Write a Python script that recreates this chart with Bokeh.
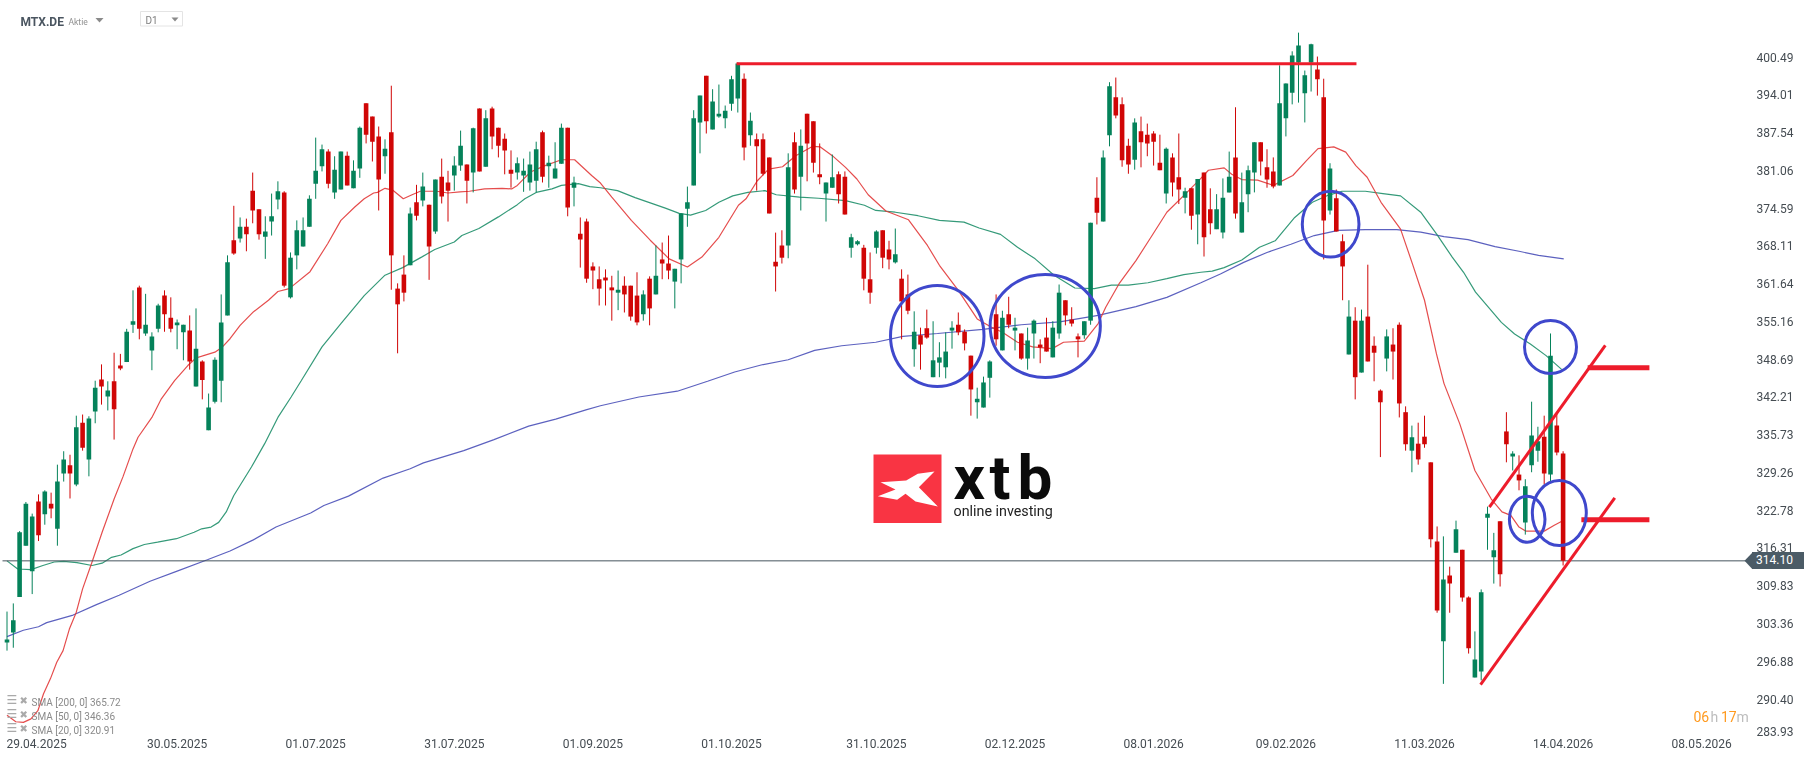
from bokeh.plotting import figure
from bokeh.embed import file_html
from bokeh.resources import INLINE
from bokeh.core.properties import value
from bokeh.layouts import column
from bokeh.models import ColumnDataSource, Div, FixedTicker, PolyAnnotation, Range1d

# ---------- candle values (daily, index 0 = 29.04.2025) ----------
opens = [
300.1,301.8,307.9,316.7,312.3,324.3,322.1,323.9,319.6,329.1,
330.5,327.2,337.8,331.5,339.7,345.2,342.3,344.9,347.6,348.2,
354.6,361.0,353.1,350.2,353.9,359.6,355.8,354.5,353.3,353.6,
344.0,348.3,336.5,341.4,345.0,356.2,369.1,369.4,371.4,377.6,
374.4,369.7,372.3,376.1,377.3,359.3,366.5,368.0,371.4,378.8,
381.8,384.3,377.3,377.8,383.6,378.0,381.4,392.6,390.3,386.9,
383.5,387.6,360.8,363.2,364.8,375.6,375.9,375.2,370.6,380.0,
379.0,380.2,381.9,382.1,380.7,391.7,381.7,391.7,388.4,386.5,
381.2,380.7,380.2,379.0,379.3,387.6,381.8,379.7,382.2,388.4,
378.1,370.2,372.3,364.6,362.4,362.7,361.0,360.1,361.3,361.3,
359.6,356.4,362.5,359.8,365.8,365.1,362.0,365.8,374.5,378.5,
389.3,397.3,388.1,390.3,390.0,392.5,393.4,396.8,387.1,386.4,
386.4,383.3,365.4,368.2,368.2,385.9,380.0,390.8,389.5,380.4,
377.1,378.1,380.4,380.0,367.8,368.4,367.8,362.4,367.8,370.8,
367.5,365.3,362.5,359.8,350.4,352.8,354.0,345.6,348.1,347.3,
353.6,354.6,353.4,349.3,341.3,340.4,345.5,356.4,350.2,356.4,
353.6,353.1,348.8,353.1,351.2,352.4,349.0,353.1,358.8,355.5,
352.6,352.8,355.3,376.4,372.3,387.1,393.6,392.4,385.3,382.9,
387.8,387.2,387.4,382.4,377.1,383.3,379.9,376.4,378.0,373.5,
380.7,374.4,371.0,370.4,377.3,383.3,370.4,377.0,380.7,385.9,
381.6,380.9,378.5,390.0,394.4,399.6,394.3,399.6,398.4,393.6,
374.2,376.3,368.9,349.5,355.3,346.4,356.0,351.0,343.3,348.8,
351.2,354.6,339.6,333.0,334.2,335.4,331.0,317.4,300.3,311.6,
315.5,316.0,307.8,294.1,295.1,321.5,314.7,320.9,336.3,332.0,
328.9,320.7,330.5,333.0,335.4,328.9,337.3,332.5]
closes = [
300.6,303.9,319.0,323.9,321.7,318.5,326.0,323.1,327.7,331.5,
329.1,337.0,333.5,338.5,343.8,344.0,343.3,340.1,347.1,353.4,
355.2,353.9,354.6,352.6,357.9,356.4,353.9,355.0,354.6,348.3,
350.5,345.1,340.4,348.6,355.0,365.3,366.8,371.4,370.1,374.2,
370.1,370.6,373.2,377.5,361.3,366.1,370.8,370.8,376.2,381.0,
384.7,378.8,381.2,384.3,378.5,381.0,388.4,387.2,386.0,379.5,
384.8,366.5,358.1,360.1,373.7,373.3,378.3,368.0,379.5,376.6,
377.6,381.9,385.3,379.3,388.3,380.9,390.0,386.9,385.3,384.5,
380.5,382.3,381.0,382.1,384.7,380.0,382.4,381.4,388.4,374.7,
379.0,369.2,362.5,363.9,360.8,362.2,360.5,360.6,359.8,356.0,
355.0,359.8,357.4,363.0,365.1,363.9,364.2,373.7,375.6,390.0,
393.9,389.5,392.9,390.8,391.3,396.7,399.4,385.0,389.6,385.2,
380.5,373.7,364.6,366.1,381.6,377.8,385.3,385.7,382.4,379.9,
379.0,379.9,377.0,373.5,369.6,368.9,362.5,360.1,370.6,366.1,
365.8,366.7,358.6,357.0,353.4,351.2,352.4,348.5,349.0,350.0,
354.1,353.3,351.4,343.5,341.9,344.7,348.3,352.1,355.8,354.6,
354.1,348.8,351.9,355.3,350.7,350.0,354.1,360.1,356.2,354.8,
352.1,355.2,372.1,373.8,383.3,395.5,390.5,382.8,382.1,389.3,
385.9,385.7,386.0,381.1,384.8,379.0,377.8,377.5,373.3,379.6,
369.6,372.0,374.4,376.4,380.0,373.7,375.6,381.1,385.9,382.6,
379.5,378.3,392.6,396.0,400.8,402.5,397.4,402.7,396.7,372.5,
381.4,370.6,364.6,356.0,345.6,355.3,348.3,349.8,341.3,352.6,
350.0,341.1,334.1,335.3,331.5,334.1,317.8,305.6,310.9,310.2,
319.5,307.8,299.1,297.2,308.7,322.2,315.9,311.8,334.1,332.5,
327.9,326.9,335.6,334.6,329.1,349.3,332.7,314.1]
highs = [
305.4,306.8,319.2,324.2,322.2,325.5,326.2,325.8,330.6,332.9,
332.3,339.0,339.2,338.9,345.0,347.8,344.9,349.8,349.6,353.9,
360.5,361.3,359.9,353.3,358.2,360.5,359.3,355.5,354.6,356.2,
357.4,348.5,342.8,349.0,359.8,366.5,375.0,373.0,372.8,380.7,
374.4,373.2,377.1,379.2,377.5,367.0,372.5,373.0,376.8,386.7,
385.5,384.7,383.5,384.3,384.3,382.8,388.6,392.6,390.3,388.6,
386.4,395.6,361.7,366.5,374.7,378.6,380.7,375.2,379.5,383.1,
381.0,383.5,387.9,382.1,388.4,391.7,391.4,392.0,388.4,387.4,
384.5,383.3,383.1,384.3,386.0,387.9,383.6,385.9,389.1,388.4,
380.0,373.0,372.8,365.3,364.6,364.1,363.0,363.9,362.9,361.3,
363.6,360.5,362.9,368.2,368.7,369.9,364.2,373.7,378.3,391.4,
393.9,397.3,395.0,395.8,392.2,397.3,399.6,397.7,391.0,387.4,
387.4,383.3,370.4,370.8,384.0,387.6,388.1,390.8,389.5,385.7,
379.0,383.8,380.9,380.9,370.2,369.1,368.3,367.0,370.8,370.8,
369.0,371.1,364.1,363.2,356.9,354.1,357.2,355.2,351.6,353.3,
355.2,356.7,353.8,349.3,343.8,345.7,348.5,359.8,357.0,359.4,
355.8,353.1,354.1,355.5,352.1,355.8,355.2,361.5,358.8,357.6,
353.1,355.2,372.1,379.9,384.5,396.2,397.0,393.6,386.5,390.0,
390.3,389.1,387.8,387.2,385.0,384.0,387.4,378.1,378.0,379.6,
380.7,378.0,377.0,379.7,384.3,391.9,380.7,381.9,385.9,385.9,
384.7,383.3,399.1,396.0,401.5,404.7,398.2,402.8,400.6,396.8,
382.3,377.8,370.1,358.8,357.6,357.2,364.9,352.6,343.5,353.8,
354.0,355.0,340.6,337.3,337.8,339.0,331.0,320.0,318.3,313.1,
321.0,316.0,308.0,302.0,309.2,323.4,318.9,320.9,339.6,332.9,
332.2,328.1,341.4,337.1,339.0,353.1,339.3,332.9]
lows = [
298.7,299.2,307.9,316.7,308.4,317.5,320.3,321.4,316.7,327.7,
324.8,326.9,333.0,328.6,337.7,340.9,339.9,334.9,346.8,348.2,
353.2,352.1,352.7,346.8,353.3,353.4,353.3,350.4,348.5,346.9,
344.0,341.8,336.5,341.1,341.3,356.2,366.6,368.7,367.2,372.0,
369.2,365.9,369.9,374.4,361.0,359.1,364.1,368.0,371.4,376.2,
380.9,378.0,376.2,377.8,378.5,378.0,379.8,385.7,382.6,374.2,
380.5,360.6,349.7,358.6,364.8,372.5,374.9,362.3,370.2,375.4,
372.3,377.6,381.0,375.4,377.3,380.9,381.7,384.7,383.3,380.4,
378.1,379.5,377.4,377.6,377.3,379.0,378.1,379.7,382.2,373.2,
374.9,364.4,361.8,360.7,357.9,357.9,355.3,357.1,356.7,355.3,
354.5,355.3,354.5,359.8,362.4,362.4,357.4,361.7,371.4,378.5,
384.0,387.4,388.1,390.1,388.3,391.3,391.0,382.8,385.3,377.6,
380.2,373.7,360.3,365.1,366.0,377.1,374.2,379.2,380.7,378.7,
372.3,378.1,375.4,373.5,366.1,368.2,360.5,358.2,366.8,364.3,
364.1,365.1,352.1,356.4,347.4,346.9,352.2,345.6,345.6,345.4,
350.5,352.8,350.2,339.0,338.5,340.4,342.1,351.0,350.2,354.0,
350.2,348.6,346.9,348.8,348.0,350.0,349.0,352.2,354.5,354.3,
349.0,352.2,354.6,371.8,372.3,385.2,390.0,381.7,380.5,381.2,
381.6,383.5,381.9,381.1,375.4,376.6,375.3,373.7,370.9,368.4,
366.3,370.1,371.0,369.4,377.3,372.8,370.4,373.9,377.3,380.2,
378.1,378.0,378.5,386.9,392.4,392.7,389.3,394.6,393.9,365.8,
373.5,370.6,358.8,349.5,341.8,346.4,348.3,344.9,331.9,346.6,
345.2,338.7,333.0,329.3,330.6,333.5,316.4,305.2,293.0,305.2,
315.5,307.1,298.2,294.1,293.6,316.0,310.2,309.7,331.0,329.6,
326.2,318.6,329.3,331.1,327.2,327.7,332.2,313.3]

# ---------- moving averages, vertices ----------
sma20_i = [0,1.4,2.6,3.8,4.9,5.8,6.9,7.9,8.9,9.9,11,12,13.5,15.1,17,18.4,20,20.8,23,24.5,26.6,28.7,30,31.2,33,34.2,35.4,37,39.1,41.5,43,44.8,48.1,50.9,53,55.2,56.7,58.2,58.8,60,61.2,62.9,64.3,65.6,68.2,70,71.9,73.4,75.8,78.6,80.1,81,83.1,85.2,88,90.1,92.8,94.2,96,99.1,102.1,105.1,108,110.3,113,116.1,117.3,119.1,120.9,123.1,125.2,127.9,129.1,131,133.1,134.9,136.7,139.5,143.1,146.1,148,151,154,156.2,158,160.4,162.8,165.9,167.7,171,173.2,174.4,176.5,179.2,181.4,184.1,187.1,189.5,190.7,193.2,194.4,196,198.5,201,204.1,206.3,208.1,210.6,212.5,214.1,215.9,218.1,221.2,223.1,225,226.9,228.1,230.6,233,235.6,237.3,238.7,240,241.1,244,245.6,246.8]
sma20_v = [287.6,286.5,286.4,287.0,288.4,291.3,293.9,296.7,298.7,302.4,305.3,309.3,313.9,319.0,324.7,328.5,333.3,335.3,338.7,341.9,345.0,347.6,348.9,349.3,349.9,350.8,352.2,354.5,356.8,358.8,360.3,360.8,363.7,368.5,372.5,374.8,376.2,377.2,377.3,378.0,377.7,376.2,376.9,377.5,377.5,377.2,377.4,377.5,377.9,378.0,377.9,378.5,380.8,381.8,382.9,382.9,380.2,378.9,376.5,372.5,369.1,365.9,364.5,366.2,369.6,375.1,376.2,379.3,381.3,381.7,383.6,385.2,385.1,383.6,381.6,379.6,376.9,374.1,372.6,368.2,364.8,360.5,355.6,354.2,353.3,351.6,350.8,350.5,351.6,351.8,354.8,357.6,361.6,365.6,369.3,373.9,377.1,379.7,381.1,381.5,380.4,379.5,379.4,378.5,380.2,382.8,384.8,385.1,384.2,381.9,379.9,375.6,371.0,365.0,358.8,349.6,344.5,337.6,329.6,324.7,322.5,321.9,319.9,319.2,319.2,320.2,320.9]
sma50_i = [0,1.7,3.8,5.7,7.5,9,11.1,13.5,15.1,16.6,18.1,20,21.8,23.9,26.9,29.7,30.9,32.4,33.6,34.8,36,38.8,40.9,43,45.1,46.7,50,53,56.7,60,62.8,65.8,67.9,71,72.2,74.9,78,81,82.2,84,86.5,88,90.7,92.5,94.2,96.9,99.7,102.1,104.5,106.7,108.5,110.9,113,115.2,117.6,120.3,122.1,125.8,128.8,133.1,136.1,137.9,141,144.6,148,151.9,154.3,157.7,160.4,163.2,166.2,169.5,172.6,175.3,178,181.1,184.1,186.8,189.5,191.3,193.2,196,198.8,201.3,204.4,207.2,209.7,211.9,215.6,218.4,221.2,224.4,226.9,229.4,231.2,233.1,237.2,239.3,241.8,244.3,246.8]
sma50_v = [314.1,312.7,312.6,313.3,313.9,314.0,313.8,313.3,313.7,314.7,315.1,316.2,316.9,317.3,317.9,319.0,319.6,319.9,320.7,322.5,325.3,330.2,334.2,338.7,342.2,345.0,350.8,354.8,359.6,363.1,364.4,366.2,367.5,368.8,369.9,371.1,373.1,375.2,376.2,377.3,377.9,378.5,378.8,378.3,378.1,377.6,376.4,375.5,374.6,373.7,373.4,374.2,375.6,376.7,377.3,377.6,376.9,376.5,376.3,375.9,375.1,374.2,373.9,373.3,372.5,372.2,371.2,370.1,367.9,365.9,363.1,360.9,360.8,361.4,361.4,361.8,362.5,363.2,363.6,363.8,364.4,365.7,367.9,369.0,373.0,375.6,376.8,377.5,377.5,377.1,376.7,373.9,370.2,366.2,363.6,360.2,355.0,353.0,351.3,349.3,346.9]
sma200_i = [0,2.6,5,6.3,10.5,14.2,17.8,22.7,26.9,31.8,35.4,39.1,42.7,48.2,50.3,54.2,59.7,64,66.1,72.5,77.3,82.8,87.1,91.9,94.2,100.3,106.4,111.2,115.5,119.7,124,128.2,132.5,137.9,142.2,147.7,154.9,161,167.1,173.2,179.2,184.1,189.5,192.6,196.3,200,203.8,207.5,211.3,215.6,220.6,224.4,228.1,231.9,236.2,240,243.1,247.1]
sma200_v = [301.1,302.2,302.8,303.5,304.8,306.6,308.2,310.6,312.3,314.3,315.8,317.7,319.9,322.3,323.6,325.2,328.3,329.9,330.9,333.0,334.9,337.2,338.4,340.0,340.7,342.2,343.2,344.9,346.5,347.7,348.6,350.2,351.0,351.6,352.6,353.1,353.8,354.6,355.1,356.2,357.7,359.3,361.8,363.3,365.3,367.0,368.4,369.9,370.8,370.9,370.9,370.5,369.7,369.2,368.0,367.2,366.5,365.9]

last_price = 314.10
legend_names = ["SMA [200, 0] 365.72", "SMA [50, 0] 346.36", "SMA [20, 0] 320.91"]

# ---------- axis labels ----------
price_tick_labels = ["400.49","394.01","387.54","381.06","374.59","368.11","361.64","355.16","348.69",
                     "342.21","335.73","329.26","322.78","316.31","309.83","303.36","296.88","290.40","283.93"]
date_ticks = [4.7,27,49,71,93,115,138,160,182,203,225,247,269]
date_labels = ["29.04.2025","30.05.2025","01.07.2025","31.07.2025","01.09.2025","01.10.2025","31.10.2025",
               "02.12.2025","08.01.2026","09.02.2026","11.03.2026","14.04.2026","08.05.2026"]

# ---------- hand-drawn annotations on the chart (bar index, price) ----------
ring_i = [147.66,164.8,210.1,245.0,241.3,246.4]
ring_p = [352.67,354.38,371.85,350.78,321.24,322.31]
ring_w = [14.84,17.49,9.0,8.25,5.65,8.57]
ring_h = [17.32,17.67,11.32,9.09,7.89,11.15]
res_i, res_p = [115.8,214.2], [399.36,399.36]
upper_i, upper_p = [235.3,253.7], [323.3,351.04]
lower_i, lower_p = [233.9,255.2], [292.89,324.92]
lvl1_i, lvl1_p = [250.9,260.7], [347.21,347.21]
lvl2_i, lvl2_p = [249.9,260.7], [321.14,321.14]

GREEN, RED = "#05825a", "#d00606"
DRAW_RED, RING = "#ed1c2b", "#3f48cc"
TEXT = "#454c52"
TAG = "#4b5b66"
FRAME_W, FRAME_H = 1752, 737

def dx(px):  # decoration placement: page px -> bar index
    return (px - 6.5) / 6.3
def dy(py):  # decoration placement: page px -> price
    return 400.49 - (py - 56.7) / 5.83

p = figure(width=1816, height=761, output_backend="svg", toolbar_location=None,
           x_range=Range1d(dx(0), dx(FRAME_W)), y_range=Range1d(dy(FRAME_H), dy(0)),
           y_axis_location="right", x_axis_location="below",
           min_border_left=0, min_border_top=0, min_border_right=1816-FRAME_W, min_border_bottom=761-FRAME_H,
           outline_line_color=None, background_fill_color="white", border_fill_color="white")
p.styles = {"position": "fixed", "left": "0px", "top": "0px"}
p.grid.visible = False

# axes
ticks = [float(t) for t in price_tick_labels[:-1]] + [284.75]  # bottom label sits clamped above its level
p.yaxis.ticker = FixedTicker(ticks=ticks)
p.yaxis.major_label_overrides = dict(zip(ticks, price_tick_labels))
p.xaxis.ticker = FixedTicker(ticks=date_ticks)
p.xaxis.major_label_overrides = dict(zip(date_ticks, date_labels))
for ax in (p.xaxis[0], p.yaxis[0]):
    ax.axis_line_color = None
    ax.major_tick_line_color = None
    ax.minor_tick_line_color = None
    ax.major_tick_out = 0
    ax.major_tick_in = 0
    ax.minor_tick_out = 0
    ax.major_label_text_font = "Roboto"
    ax.major_label_text_font_size = "12px"
    ax.major_label_text_color = TEXT
p.yaxis[0].major_label_standoff = 4
p.xaxis[0].major_label_standoff = 1

# moving averages
p.line(sma200_i, sma200_v, line_color="#4a50b8", line_width=1.2, line_alpha=0.9)
p.line(sma50_i, sma50_v, line_color="#1f8f6a", line_width=1.2, line_alpha=0.9)
p.line(sma20_i, sma20_v, line_color="#e23a3a", line_width=1.2, line_alpha=0.9)

# last price line
p.line([dx(2), dx(1750)], [last_price, last_price], line_color="#46545e", line_width=1)

# candles
idx = list(range(len(opens)))
cols = [GREEN if c >= o else RED for o, c in zip(opens, closes)]
src = ColumnDataSource(dict(x=idx, o=opens, c=closes, h=highs, l=lows, col=cols))
p.segment("x", "h", "x", "l", source=src, line_color="col", line_width=1)
p.vbar("x", 0.73, "o", "c", source=src, fill_color="col", line_color=None)

# drawn lines and rings
p.line(res_i, res_p, line_color=DRAW_RED, line_width=3)
p.line(upper_i, upper_p, line_color=DRAW_RED, line_width=3)
p.line(lower_i, lower_p, line_color=DRAW_RED, line_width=3)
p.line(lvl1_i, lvl1_p, line_color=DRAW_RED, line_width=5)
p.line(lvl2_i, lvl2_p, line_color=DRAW_RED, line_width=5)
p.ellipse(ring_i, ring_p, width=ring_w, height=ring_h, fill_color=None, line_color=RING, line_width=3)

def txt(x, y, s, size, color, font="Roboto", bold=False, align="left", baseline="middle"):
    p.text([dx(x)], [dy(y)], text=[s], text_font=value(font), text_font_size=size, text_color=color,
           text_align=align, text_baseline=baseline, text_font_style="bold" if bold else "normal")

# logo
p.quad(left=[dx(873)], right=[dx(941)], top=[dy(454)], bottom=[dy(522.5)], fill_color="#f93443", line_color=None)
mark = [(120,155),(197,150),(232,130),(282,123),(235,170),(292,228),(225,213),(195,190),(170,208),(112,197),(165,177)]
p.patch([dx(840 + a / 3) for a, b in mark], [dy(430 + b / 3) for a, b in mark], fill_color="white", line_color=None)
for ch, x in [("x", 953), ("t", 989), ("b", 1017)]:
    txt(x, 477, ch, "62px", "#0b0b0b", bold=True)
txt(953, 510.5, "online investing", "14.3px", "#222222", baseline="alphabetic")

# header
txt(20, 21, "MTX.DE", "12px", "#4a5560", bold=True)
txt(68, 21, "Aktie", "8.5px", "#909090")
p.patch([dx(95), dx(103), dx(99)], [dy(17.5), dy(17.5), dy(22)], fill_color="#8a8a8a", line_color=None)
p.quad(left=[dx(140)], right=[dx(182)], top=[dy(11)], bottom=[dy(25.5)], fill_color="white", line_color="#e4e4e4")
txt(145, 20, "D1", "10px", "#808080")
p.patch([dx(171), dx(178), dx(174.5)], [dy(17), dy(17), dy(21)], fill_color="#8a8a8a", line_color=None)

# indicator legend
for name, y in zip(legend_names, [701.7, 715.7, 729.7]):
    txt(6, y - 2, "☰", "12px", "#aaaaaa", font="DejaVu Sans")
    txt(19, y - 2, "✖", "10px", "#aaaaaa", font="DejaVu Sans")
    txt(31, y, name, "10px", "#8a8a8a")

# countdown
for s, col, x in [("06", "#ff9a1f", 1693), ("h", "#bdbdbd", 1710), ("17", "#ff9a1f", 1720.5), ("m", "#bdbdbd", 1736)]:
    txt(x, 716, s, "14px", col)

# last-price tag: arrow inside the chart, box over the axis column as a page element
half = 8.4 / 5.83
p.add_layout(PolyAnnotation(xs=[1744, 1752, 1752], ys=[last_price, last_price + half, last_price - half],
                            xs_units="screen", ys_units="data", fill_color=TAG, fill_alpha=1, line_color=None))
tag = Div(text=f"{last_price:.2f}", width=52, height=17, margin=0,
          styles={"position": "fixed", "left": "1752px", "top": "552px", "z-index": "5", "background-color": TAG,
                  "color": "white", "font-family": "Roboto", "font-size": "12px", "line-height": "17px",
                  "padding-left": "4px", "box-sizing": "border-box"})

open("out.html", "w").write(file_html(column(p, tag), INLINE))
